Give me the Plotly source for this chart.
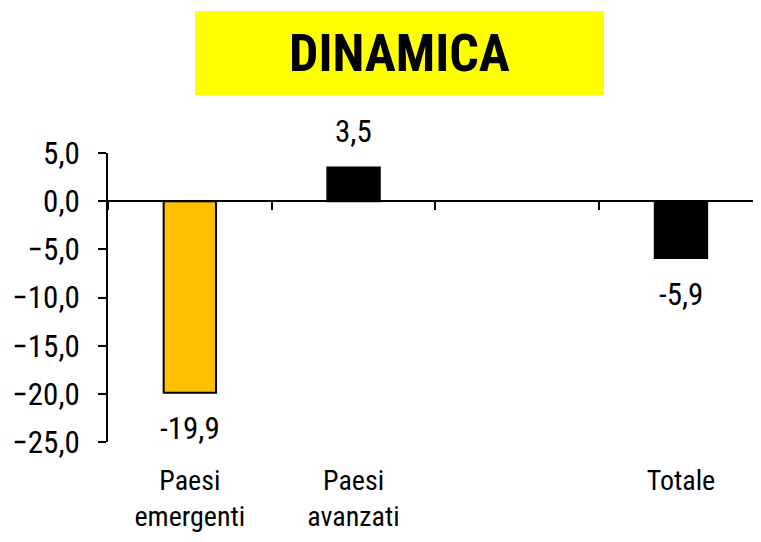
import plotly.graph_objects as go

# ── Data ─────────────────────────────────────────────────────────────────────
categories = ["Paesi<br>emergenti", "Paesi<br>avanzati", " ", "Totale"]
values     = [-19.9, 3.5, None, -5.9]
bar_colors = ["#FFC000", "#000000", "#000000", "#000000"]
y_ticks    = [5, 0, -5, -10, -15, -20, -25]

FONT = "Liberation Sans Narrow, Arial Narrow, Roboto Condensed, Liberation Sans, sans-serif"
Y_MIN, Y_MAX = -25, 5

fig = go.Figure(go.Bar(
    x=categories, y=values,
    marker=dict(color=bar_colors, line=dict(color="black", width=2)),
    width=0.32,
    hoverinfo="x+y",
))

# value labels, set off from the bar ends like the original
labels = [dict(x=c, y=v, text=f"{v:.1f}".replace(".", ","), showarrow=False,
               yanchor="middle", yshift=36 if v > 0 else -36,
               font=dict(size=31, family=FONT, color="black"))
          for c, v in zip(categories, values) if v is not None]

# page body has an 8px margin: keep the figure inside the window (no scrollbars)
fig.update_layout(
    width=745, height=526,
    margin=dict(l=100, r=0, t=145, b=92, autoexpand=False),
    paper_bgcolor="white", plot_bgcolor="white",
    separators=",.",
    showlegend=False,
    font=dict(family=FONT, size=30, color="black"),
    shapes=[dict(type="rect", xref="paper", yref="paper",
                 x0=0.1349, x1=0.769, y0=1.2007, y1=1.4913,
                 fillcolor="#FFFF00", line=dict(width=0), layer="below")],
    annotations=labels + [dict(text="<b>DINAMICA</b>", xref="paper", yref="paper",
                               x=0.4527, y=1.346, xanchor="center", yanchor="middle",
                               showarrow=False,
                               font=dict(size=52, family=FONT, color="black"))],
)

fig.update_yaxes(
    range=[Y_MIN, Y_MAX], tickvals=y_ticks, tickformat=".1f",
    showline=True, linecolor="black", linewidth=2,
    ticks="outside", ticklen=8, tickwidth=2, tickcolor="black",
    tickfont=dict(size=31), ticklabelstandoff=12,
    showgrid=False, zeroline=False, automargin=False,
)
fig.update_xaxes(
    range=[-0.5, 3.44],
    anchor="free", position=(0 - Y_MIN) / (Y_MAX - Y_MIN),
    showline=True, linecolor="black", linewidth=2,
    ticks="outside", tickson="boundaries", ticklen=8, tickwidth=2, tickcolor="black",
    tickfont=dict(size=28), ticklabelstandoff=254,
    showgrid=False, automargin=False,
)

fig.write_html("out.html")
